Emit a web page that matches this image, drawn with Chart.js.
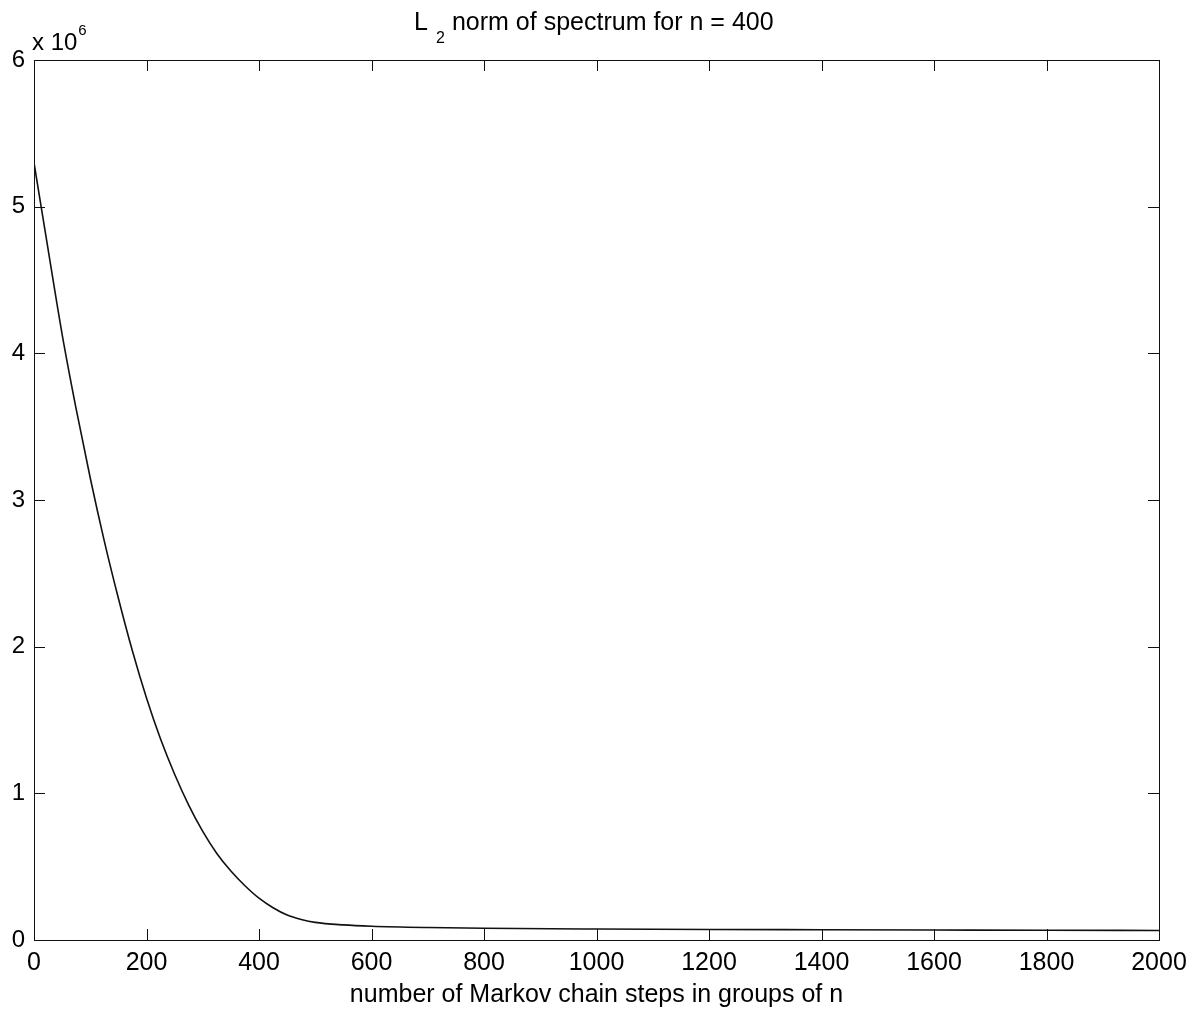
<!DOCTYPE html>
<html>
<head>
<meta charset="utf-8">
<script src="https://cdn.jsdelivr.net/npm/chart.js@4.4.0/dist/chart.umd.min.js"></script>
<style>
html,body{margin:0;padding:0;background:#fff;}
canvas{display:block;}
</style>
</head>
<body>
<canvas id="c" width="1204" height="1013"></canvas>
<script>
// Data
const steps = [0, 25, 50, 75, 100, 125, 150, 175, 200, 225, 250, 275, 300, 325, 350, 375, 400, 425, 450, 475, 500, 550, 600, 700, 800, 1000, 1200, 1400, 1600, 1800, 2000];
const normMillions = [5.30, 4.71, 4.13, 3.62, 3.15, 2.72, 2.33, 1.97, 1.65, 1.37, 1.13, 0.92, 0.74, 0.59, 0.47, 0.37, 0.285, 0.22, 0.17, 0.14, 0.12, 0.103, 0.094, 0.085, 0.080, 0.075, 0.072, 0.070, 0.068, 0.066, 0.065];
const xTicks = [0, 200, 400, 600, 800, 1000, 1200, 1400, 1600, 1800, 2000];
const yTicks = [0, 1, 2, 3, 4, 5, 6];
const chartTitle = ["L", "2", " norm of spectrum for n = 400"];
const xTitle = "number of Markov chain steps in groups of n";
const yScaleLabel = ["x 10", "6"];

const points = steps.map((s, i) => ({x: s, y: normMillions[i] * 1e6}));
const FONT = "'Liberation Sans', Arial, Helvetica, sans-serif";

const frame = {
  id: 'frame',
  afterDraw(chart) {
    const ctx = chart.ctx;
    const a = chart.chartArea;
    const xs = chart.scales.x, ys = chart.scales.y;
    ctx.save();
    ctx.strokeStyle = '#111';
    ctx.lineWidth = 1;
    ctx.strokeRect(Math.round(a.left) + 0.5, Math.round(a.top) + 0.5, Math.round(a.right - a.left), Math.round(a.bottom - a.top));
    const tl = 11;
    ctx.beginPath();
    xTicks.forEach(v => {
      const px = Math.round(xs.getPixelForValue(v)) + 0.5;
      ctx.moveTo(px, a.bottom); ctx.lineTo(px, a.bottom - tl);
      ctx.moveTo(px, a.top); ctx.lineTo(px, a.top + tl);
    });
    yTicks.forEach(v => {
      const py = Math.round(ys.getPixelForValue(v * 1e6)) + 0.5;
      ctx.moveTo(a.left, py); ctx.lineTo(a.left + tl, py);
      ctx.moveTo(a.right, py); ctx.lineTo(a.right - tl, py);
    });
    ctx.stroke();

    // title with subscript
    const cx = (a.left + a.right) / 2;
    ctx.fillStyle = '#000';
    ctx.textBaseline = 'alphabetic';
    ctx.textAlign = 'left';
    ctx.font = '25px ' + FONT;
    ctx.fillText(chartTitle[0], cx - 182.5, 30);
    ctx.font = '16px ' + FONT;
    ctx.fillText(chartTitle[1], cx - 160.5, 43);
    ctx.font = '25px ' + FONT;
    ctx.fillText(chartTitle[2], cx - 151.5, 30);

    // exponent label
    ctx.font = '24px ' + FONT;
    ctx.fillText(yScaleLabel[0], a.left - 2, 50);
    const w = ctx.measureText(yScaleLabel[0]).width;
    ctx.font = '15px ' + FONT;
    ctx.fillText(yScaleLabel[1], a.left - 2 + w + 1, 35);
    ctx.restore();
  }
};

new Chart(document.getElementById('c'), {
  type: 'line',
  data: {
    datasets: [{
      data: points,
      borderColor: '#111',
      borderWidth: 1.6,
      pointRadius: 0,
      fill: false,
      cubicInterpolationMode: 'monotone'
    }]
  },
  options: {
    responsive: false,
    animation: false,
    devicePixelRatio: 1,
    layout: {padding: {top: 60, right: 45, left: 0, bottom: 0}},
    plugins: {legend: {display: false}, tooltip: {enabled: false}, title: {display: false}},
    scales: {
      x: {
        type: 'linear', min: 0, max: 2000,
        afterBuildTicks: s => { s.ticks = xTicks.map(v => ({value: v})); },
        afterFit: s => { s.height = 73; },
        grid: {display: false, drawTicks: false},
        border: {display: false},
        ticks: {color: '#000', font: {size: 25, family: FONT}, padding: 8, maxRotation: 0, autoSkip: false, callback: v => String(v)},
        title: {display: true, text: xTitle, color: '#000', font: {size: 25, family: FONT}, padding: {top: 0, bottom: 3}}
      },
      y: {
        min: 0, max: 6e6,
        afterBuildTicks: s => { s.ticks = yTicks.map(v => ({value: v * 1e6})); },
        afterFit: s => { s.width = 34; },
        grid: {display: false, drawTicks: false},
        border: {display: false},
        ticks: {color: '#000', font: {size: 24, family: FONT}, padding: 9, autoSkip: false, callback: v => String(v / 1e6)}
      }
    }
  },
  plugins: [frame]
});
</script>
</body>
</html>
